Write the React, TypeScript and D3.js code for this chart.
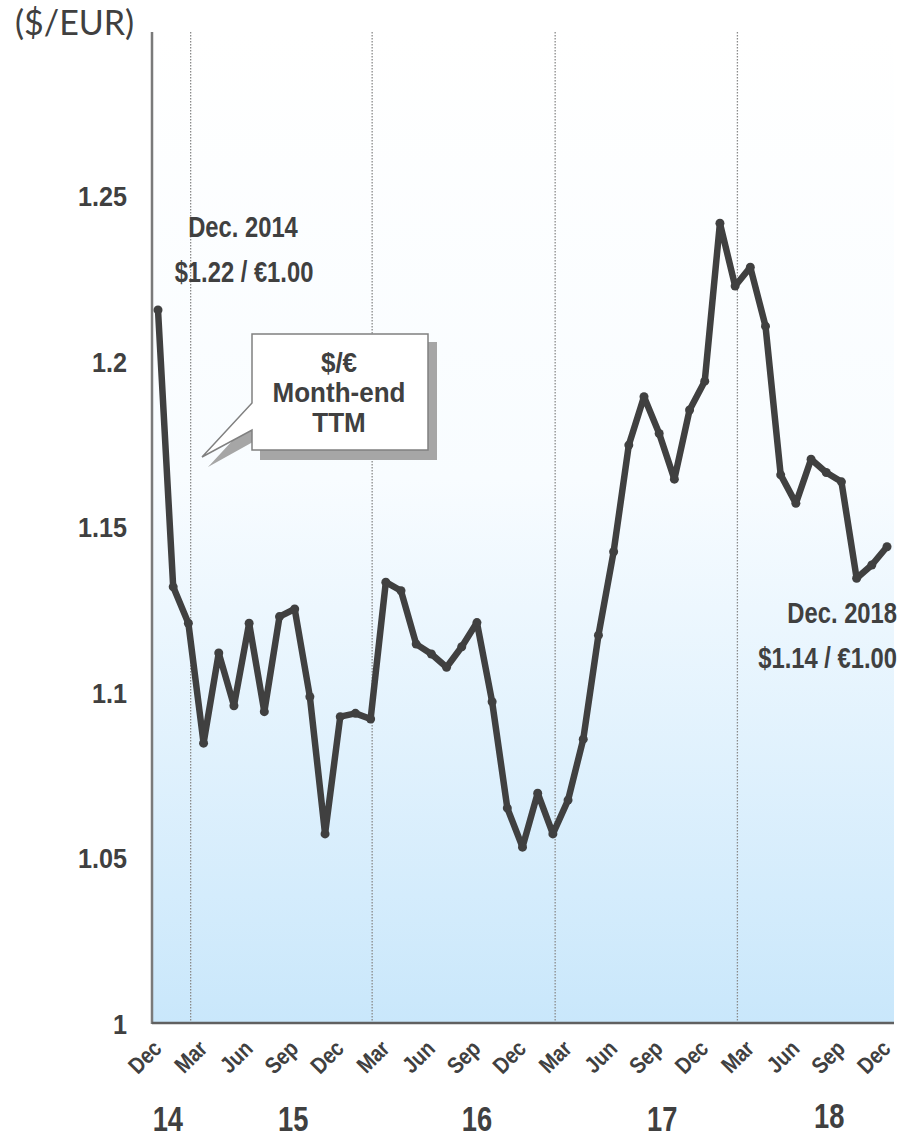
import React from "react";
import * as d3 from "d3";

const months = [
  "Dec14","Jan15","Feb15","Mar15","Apr15","May15","Jun15","Jul15","Aug15","Sep15","Oct15","Nov15",
  "Dec15","Jan16","Feb16","Mar16","Apr16","May16","Jun16","Jul16","Aug16","Sep16","Oct16","Nov16",
  "Dec16","Jan17","Feb17","Mar17","Apr17","May17","Jun17","Jul17","Aug17","Sep17","Oct17","Nov17",
  "Dec17","Jan18","Feb18","Mar18","Apr18","May18","Jun18","Jul18","Aug18","Sep18","Oct18","Nov18","Dec18",
];
const rates = [
  1.2156, 1.132, 1.121, 1.0848, 1.112, 1.0961, 1.121, 1.0943, 1.123, 1.1253, 1.0988, 1.0574,
  1.0928, 1.0938, 1.0921, 1.1334, 1.1308, 1.1147, 1.1117, 1.1077, 1.1139, 1.1212, 1.0973, 1.0652,
  1.0534, 1.0697, 1.0574, 1.0676, 1.086, 1.1174, 1.1426, 1.1748, 1.1894, 1.1783, 1.1645, 1.1854,
  1.1941, 1.2418, 1.2228, 1.2285, 1.2107, 1.1658, 1.1572, 1.1705, 1.1665, 1.1637, 1.1346, 1.1386, 1.1441,
];
const yTicks = [1, 1.05, 1.1, 1.15, 1.2, 1.25];
const yTickLabels = ["1", "1.05", "1.1", "1.15", "1.2", "1.25"];
const monthTickLabels = ["Dec","Mar","Jun","Sep","Dec","Mar","Jun","Sep","Dec","Mar","Jun","Sep","Dec","Mar","Jun","Sep","Dec"];
const yearLabels = ["14", "15", "16", "17", "18"];
const yearLabelPos = [0.65, 8.9, 21, 33.2, 44.2];
const gridPos = [2.15, 14.1, 26.15, 38.15];
const calloutLines = ["$/€", "Month-end", "TTM"];

const FONT = "'Liberation Sans', Arial, sans-serif";
const TXT = "#404040";

function NText({ x, y, sx = 0.82, size, anchor = "start", rotate = 0, children }: any) {
  return (
    <text
      transform={`translate(${x} ${y}) rotate(${rotate}) scale(${sx} 1)`}
      textAnchor={anchor}
      fontFamily={FONT}
      fontWeight="bold"
      fontSize={size}
      fill={TXT}
    >
      {children}
    </text>
  );
}

export default function App() {
  const W = 916, H = 1138;
  const left = 152, right = 894, top = 32, bottom = 1024;
  const x = d3.scaleLinear().domain([0, 48]).range([158, 887]);
  const y = d3.scaleLinear().domain([1, 1.3]).range([bottom, bottom - 0.3 * 3312]);
  const line = d3.line<number>().x((_, i) => x(i)).y((d) => y(d));

  return (
    <svg width={W} height={H} style={{ display: "block", position: "absolute", left: 0, top: 0 }}>
      <defs>
        <linearGradient id="bg" x1="0" y1="0" x2="0" y2="1">
          <stop offset="0" stopColor="#ffffff" />
          <stop offset="0.45" stopColor="#f8fcff" />
          <stop offset="1" stopColor="#c9e7fb" />
        </linearGradient>
      </defs>
      <rect x={left} y={top} width={right - left} height={bottom - top} fill="url(#bg)" />
      {gridPos.map((g, i) => (
        <line key={i} x1={x(g)} x2={x(g)} y1={top} y2={bottom} stroke="#8a8a8a" strokeWidth={1.3} strokeDasharray="1.5,1.5" />
      ))}
      <line x1={left} x2={left} y1={top} y2={bottom} stroke="#7a7a7a" strokeWidth={2.5} />
      <line x1={left} x2={right} y1={bottom - 1} y2={bottom - 1} stroke="#606060" strokeWidth={2.5} />

      <text x={15} y={35} fontFamily="Lato, 'Open Sans', sans-serif" fontSize={34} fill={TXT}>($/EUR)</text>

      {yTicks.map((t, i) => (
        <NText key={i} x={127} y={y(t) + 10} size={28} sx={0.9} anchor="end">
          {yTickLabels[i]}
        </NText>
      ))}

      {monthTickLabels.map((m, i) => (
        <NText key={i} x={x(i * 3) + 5} y={1050} size={23} sx={0.85} rotate={-45} anchor="end">
          {m}
        </NText>
      ))}

      {yearLabels.map((yl, i) => (
        <NText key={i} x={x(yearLabelPos[i])} y={i === 4 ? 1128 : 1131} size={35} sx={0.78} anchor="middle">
          {yl}
        </NText>
      ))}

      <path d={line(rates) || ""} fill="none" stroke="#404040" strokeWidth={6.5} strokeLinejoin="round" />
      {rates.map((r, i) => (
        <circle key={i} cx={x(i)} cy={y(r)} r={4.5} fill="#404040" />
      ))}

      {/* callout */}
      <g>
        <polygon points="260,342 437,342 437,460 260,460 260,438 208,467 260,411" fill="#a6a6a6" />
        <polygon points="252,334 428,334 428,450 252,450 252,430 202,457 252,403" fill="#ffffff" stroke="#808080" strokeWidth={1.5} />
        {calloutLines.map((l, i) => (
          <NText key={i} x={339} y={372 + i * 30} size={28} sx={0.93} anchor="middle">
            {l}
          </NText>
        ))}
      </g>

      <NText x={243} y={237} size={29} sx={0.82} anchor="middle">Dec. 2014</NText>
      <NText x={244} y={282} size={29} sx={0.82} anchor="middle">$1.22 / €1.00</NText>
      <NText x={897} y={623} size={29} sx={0.82} anchor="end">Dec. 2018</NText>
      <NText x={897} y={668} size={29} sx={0.82} anchor="end">$1.14 / €1.00</NText>
    </svg>
  );
}
